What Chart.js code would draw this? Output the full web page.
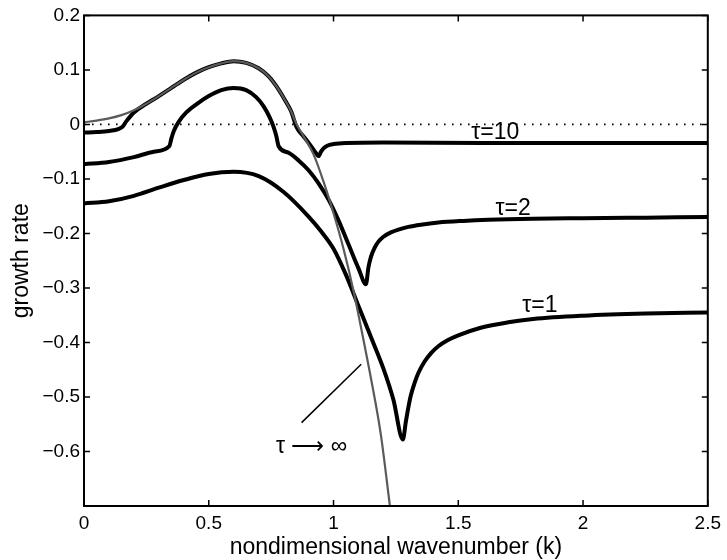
<!DOCTYPE html>
<html>
<head>
<meta charset="utf-8">
<script src="https://cdn.jsdelivr.net/npm/chart.js@4.4.1/dist/chart.umd.min.js"></script>
<style>
  body { margin: 0; background: #fff; }
  #box { width: 727px; height: 560px; }
</style>
</head>
<body>
<div id="box"><canvas id="grafico" width="727" height="560"></canvas></div>
<script>
// eixos
const xTicks = [0, 0.5, 1, 1.5, 2, 2.5];
const yTicks = [0.2, 0.1, 0, -0.1, -0.2, -0.3, -0.4, -0.5, -0.6];

// tau -> infinito (curva cinza)
const infK = [0, 0.05, 0.1, 0.15, 0.2, 0.25, 0.3, 0.35, 0.4, 0.45, 0.5, 0.55, 0.6, 0.65, 0.7, 0.74, 0.78, 0.81, 0.83, 0.85, 0.88, 0.92, 0.96, 1.0, 1.04, 1.08, 1.12, 1.16, 1.19, 1.226];
const infG = [0.004, 0.007, 0.011, 0.017, 0.026, 0.038, 0.052, 0.067, 0.082, 0.095, 0.105, 0.112, 0.116, 0.113, 0.103, 0.088, 0.064, 0.041, 0.024, 0.002, -0.022, -0.055, -0.105, -0.163, -0.228, -0.305, -0.395, -0.49, -0.57, -0.70];

// tau = 10
const t10K = [0, 0.05, 0.1, 0.14, 0.155, 0.17, 0.2, 0.25, 0.3, 0.35, 0.4, 0.45, 0.5, 0.55, 0.6, 0.65, 0.7, 0.74, 0.78, 0.81, 0.83, 0.853, 0.88, 0.91, 0.93, 0.94, 0.95, 0.96, 0.975, 1.0, 1.05, 1.2, 1.6, 2.0, 2.5];
const t10G = [-0.015, -0.014, -0.012, -0.008, -0.004, 0.006, 0.022, 0.038, 0.052, 0.067, 0.082, 0.095, 0.105, 0.112, 0.116, 0.113, 0.103, 0.088, 0.064, 0.041, 0.024, -0.006, -0.022, -0.04, -0.053, -0.058, -0.05, -0.044, -0.039, -0.036, -0.034, -0.033, -0.034, -0.034, -0.034];

// tau = 2
const t2K = [0, 0.1, 0.2, 0.28, 0.342, 0.35, 0.36, 0.38, 0.41, 0.46, 0.5, 0.55, 0.6, 0.65, 0.69, 0.72, 0.745, 0.76, 0.77, 0.78, 0.82, 0.86, 0.9, 0.94, 0.98, 1.02, 1.06, 1.1, 1.13, 1.14, 1.15, 1.165, 1.18, 1.2, 1.23, 1.26, 1.3, 1.35, 1.42, 1.52, 1.62, 1.8, 2.0, 2.25, 2.5];
const t2G = [-0.073, -0.069, -0.06, -0.05, -0.04, -0.026, -0.012, 0.005, 0.022, 0.04, 0.052, 0.063, 0.067, 0.063, 0.05, 0.033, 0.012, -0.005, -0.02, -0.04, -0.052, -0.066, -0.084, -0.108, -0.138, -0.176, -0.22, -0.264, -0.293, -0.262, -0.243, -0.226, -0.215, -0.206, -0.198, -0.193, -0.188, -0.184, -0.18, -0.177, -0.175, -0.173, -0.172, -0.171, -0.17];

// tau = 1
const t1K = [0, 0.1, 0.2, 0.3, 0.4, 0.5, 0.6, 0.7, 0.8, 0.9, 0.95, 1.0, 1.05, 1.1, 1.15, 1.2, 1.24, 1.278, 1.29, 1.3, 1.31, 1.325, 1.34, 1.365, 1.39, 1.42, 1.457, 1.5, 1.59, 1.7, 1.8, 2.0, 2.25, 2.5];
const t1G = [-0.145, -0.141, -0.131, -0.116, -0.102, -0.091, -0.087, -0.095, -0.124, -0.169, -0.196, -0.228, -0.276, -0.333, -0.39, -0.448, -0.505, -0.578, -0.545, -0.519, -0.497, -0.474, -0.456, -0.435, -0.42, -0.407, -0.396, -0.387, -0.373, -0.363, -0.357, -0.351, -0.347, -0.345];

// linha pontilhada do zero e traco do rotulo
const zeroK = [0, 2.5];
const zeroG = [0, 0];
const setaK = [0.872, 1.111];
const setaG = [-0.547, -0.44];

const FONTE = '"Liberation Sans", Arial, Helvetica, sans-serif';

function pontos(ks, gs) {
    return ks.map((k, i) => ({ x: k, y: gs[i] }));
}

const rotulos = [
    { texto: 'τ=10', k: 1.648, g: -0.026 },
    { texto: 'τ=2', k: 1.72, g: -0.166 },
    { texto: 'τ=1', k: 1.827, g: -0.344 },
    { texto: 'τ ⟶ ∞', k: 0.912, g: -0.602 }
];

const molduraPlugin = {
    id: 'moldura',
    afterDraw(chart) {
        const { ctx, chartArea: a, scales } = chart;
        ctx.save();
        ctx.strokeStyle = '#000';
        ctx.lineWidth = 2;
        ctx.strokeRect(a.left, a.top, a.right - a.left, a.bottom - a.top);

        ctx.lineWidth = 1.5;
        ctx.beginPath();
        xTicks.forEach(v => {
            const px = scales.x.getPixelForValue(v);
            ctx.moveTo(px, a.bottom); ctx.lineTo(px, a.bottom - 6);
            ctx.moveTo(px, a.top); ctx.lineTo(px, a.top + 6);
        });
        yTicks.forEach(v => {
            const py = scales.y.getPixelForValue(v);
            ctx.moveTo(a.left, py); ctx.lineTo(a.left + 6, py);
            ctx.moveTo(a.right, py); ctx.lineTo(a.right - 6, py);
        });
        ctx.stroke();

        ctx.fillStyle = '#000';
        ctx.font = '23px ' + FONTE;
        ctx.textAlign = 'center';
        ctx.textBaseline = 'alphabetic';
        rotulos.forEach(r => {
            ctx.fillText(r.texto, scales.x.getPixelForValue(r.k), scales.y.getPixelForValue(r.g));
        });
        ctx.restore();
    }
};

const grossa = { borderColor: '#000', borderWidth: 4, pointRadius: 0, cubicInterpolationMode: 'monotone', borderJoinStyle: 'round', borderCapStyle: 'round' };

new Chart(document.getElementById('grafico'), {
    type: 'line',
    data: {
        datasets: [
            { data: pontos(zeroK, zeroG), borderColor: '#000', borderWidth: 1.6, borderDash: [1.6, 6.4], pointRadius: 0 },
            { data: pontos(setaK, setaG), borderColor: '#000', borderWidth: 1.5, pointRadius: 0 },
            { data: pontos(infK, infG), borderColor: '#5a5a5a', borderWidth: 2.2, pointRadius: 0, cubicInterpolationMode: 'monotone' },
            { data: pontos(t10K, t10G), ...grossa },
            { data: pontos(t2K, t2G), ...grossa },
            { data: pontos(t1K, t1G), ...grossa }
        ]
    },
    options: {
        responsive: false,
        animation: false,
        events: [],
        layout: { padding: { top: 12, right: 15, left: 0, bottom: 0 } },
        plugins: {
            legend: { display: false },
            tooltip: { enabled: false }
        },
        scales: {
            x: {
                type: 'linear',
                min: 0,
                max: 2.5,
                afterBuildTicks: (s) => { s.ticks = xTicks.map(v => ({ value: v })); },
                afterFit: (s) => { s.height = 54; },
                grid: { display: false, drawTicks: false },
                border: { display: false },
                ticks: {
                    color: '#000',
                    padding: 6,
                    maxRotation: 0,
                    font: { family: FONTE, size: 19 },
                    callback: (v) => String(Math.round(v * 10) / 10)
                },
                title: {
                    display: true,
                    text: 'nondimensional wavenumber (k)',
                    color: '#000',
                    font: { family: FONTE, size: 23, lineHeight: 1 },
                    padding: { top: 0, bottom: 1 }
                }
            },
            y: {
                type: 'linear',
                min: -0.7,
                max: 0.2,
                afterBuildTicks: (s) => { s.ticks = yTicks.map(v => ({ value: v })); },
                afterFit: (s) => { s.width = 84; },
                grid: { display: false, drawTicks: false },
                border: { display: false },
                ticks: {
                    color: '#000',
                    padding: 4,
                    font: { family: FONTE, size: 19 },
                    callback: (v) => {
                        const r = Math.round(v * 10) / 10;
                        return r < 0 ? '\u2212' + String(-r) : String(r);
                    }
                },
                title: {
                    display: true,
                    text: 'growth rate',
                    color: '#000',
                    font: { family: FONTE, size: 23, lineHeight: 1 },
                    padding: { top: 10, bottom: 0 }
                }
            }
        }
    },
    plugins: [molduraPlugin]
});
</script>
</body>
</html>
